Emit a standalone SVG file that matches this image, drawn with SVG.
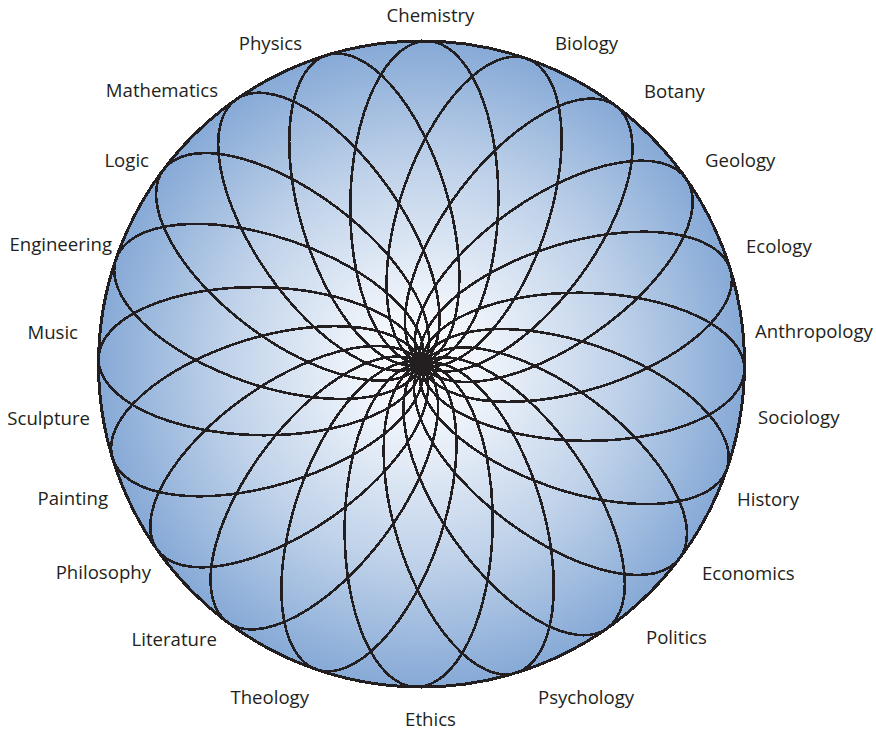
<svg xmlns="http://www.w3.org/2000/svg" xmlns:xlink="http://www.w3.org/1999/xlink" width="876" height="730" viewBox="0 0 876 730">
<style>
.lbl{font-family:"Open Sans","Noto Sans","Liberation Sans",sans-serif;font-size:18.6px;fill:#231f20}
.pet{fill:none;stroke:#231f20;stroke-width:2.6;shape-rendering:crispEdges}
.rim{stroke:#231f20;stroke-width:3;shape-rendering:crispEdges}
</style>
<defs>
<radialGradient id="bg" cx="421.5" cy="364" r="323.5" gradientUnits="userSpaceOnUse">
<stop offset="0" stop-color="#ffffff"/>
<stop offset="0.2" stop-color="#eef3fa"/>
<stop offset="0.6" stop-color="#c1d3ea"/>
<stop offset="1" stop-color="#86a9d6"/>
</radialGradient>
<ellipse id="petal" cx="0" cy="-161.5" rx="74" ry="161.5" class="pet"/>
</defs>
<g id="disc">
<circle cx="421.5" cy="364" r="323" fill="url(#bg)" class="rim"/>
</g>
<g id="petals" transform="translate(421.5 364)">
<use xlink:href="#petal" transform="rotate(1)"/>
<use xlink:href="#petal" transform="rotate(19)"/>
<use xlink:href="#petal" transform="rotate(37)"/>
<use xlink:href="#petal" transform="rotate(55)"/>
<use xlink:href="#petal" transform="rotate(73)"/>
<use xlink:href="#petal" transform="rotate(91)"/>
<use xlink:href="#petal" transform="rotate(109)"/>
<use xlink:href="#petal" transform="rotate(127)"/>
<use xlink:href="#petal" transform="rotate(145)"/>
<use xlink:href="#petal" transform="rotate(163)"/>
<use xlink:href="#petal" transform="rotate(181)"/>
<use xlink:href="#petal" transform="rotate(199)"/>
<use xlink:href="#petal" transform="rotate(217)"/>
<use xlink:href="#petal" transform="rotate(235)"/>
<use xlink:href="#petal" transform="rotate(253)"/>
<use xlink:href="#petal" transform="rotate(271)"/>
<use xlink:href="#petal" transform="rotate(289)"/>
<use xlink:href="#petal" transform="rotate(307)"/>
<use xlink:href="#petal" transform="rotate(325)"/>
<use xlink:href="#petal" transform="rotate(343)"/>
<circle cx="0" cy="0" r="12" fill="#231f20"/>
</g>
<g id="labels">
<g id="chemistry"><text class="lbl" x="430.5" y="22" text-anchor="middle">Chemistry</text></g>
<g id="biology"><text class="lbl" x="555" y="50">Biology</text></g>
<g id="botany"><text class="lbl" x="644" y="98">Botany</text></g>
<g id="geology"><text class="lbl" x="705" y="167">Geology</text></g>
<g id="ecology"><text class="lbl" x="746" y="253">Ecology</text></g>
<g id="anthropology"><text class="lbl" x="755" y="338">Anthropology</text></g>
<g id="sociology"><text class="lbl" x="758" y="424">Sociology</text></g>
<g id="history"><text class="lbl" x="737" y="506">History</text></g>
<g id="economics"><text class="lbl" x="702" y="580">Economics</text></g>
<g id="politics"><text class="lbl" x="646" y="644">Politics</text></g>
<g id="psychology"><text class="lbl" x="538" y="704">Psychology</text></g>
<g id="ethics"><text class="lbl" x="430.5" y="726" text-anchor="middle">Ethics</text></g>
<g id="theology"><text class="lbl" x="309" y="704" text-anchor="end">Theology</text></g>
<g id="literature"><text class="lbl" x="217" y="646" text-anchor="end">Literature</text></g>
<g id="philosophy"><text class="lbl" x="151" y="579" text-anchor="end">Philosophy</text></g>
<g id="painting"><text class="lbl" x="108" y="505" text-anchor="end">Painting</text></g>
<g id="sculpture"><text class="lbl" x="90" y="425" text-anchor="end">Sculpture</text></g>
<g id="music"><text class="lbl" x="78" y="339" text-anchor="end">Music</text></g>
<g id="engineering"><text class="lbl" x="112" y="251" text-anchor="end">Engineering</text></g>
<g id="logic"><text class="lbl" x="149" y="167" text-anchor="end">Logic</text></g>
<g id="mathematics"><text class="lbl" x="218" y="97" text-anchor="end">Mathematics</text></g>
<g id="physics"><text class="lbl" x="302" y="50" text-anchor="end">Physics</text></g>
</g>
</svg>
